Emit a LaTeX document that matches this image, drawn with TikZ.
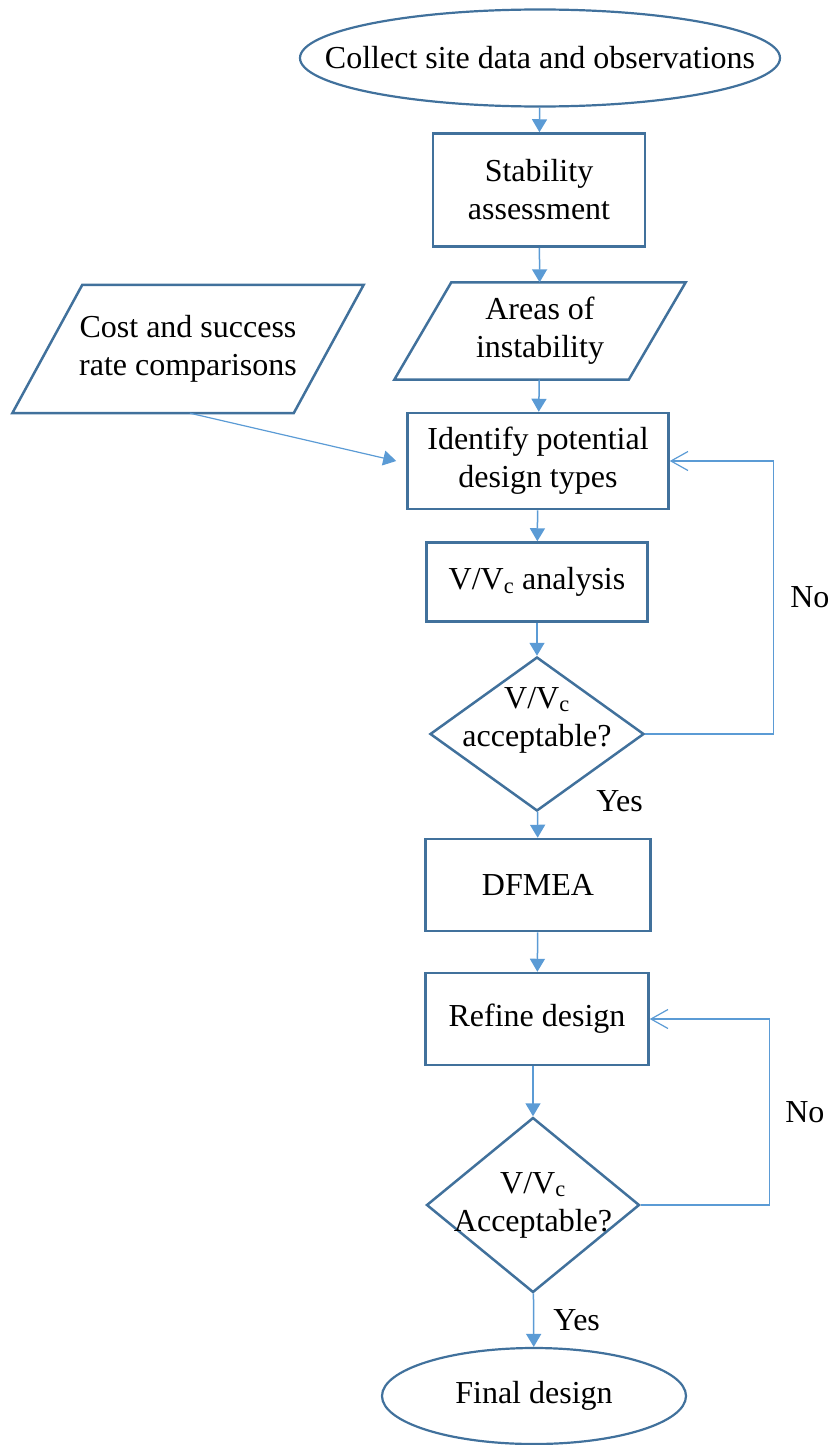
\documentclass[tikz,border=0pt]{standalone}
\usepackage{fontspec}
\setmainfont{Liberation Serif}
\usetikzlibrary{shapes.geometric, arrows.meta, positioning, calc}
\definecolor{edgeblue}{HTML}{41719C}
\definecolor{flowblue}{HTML}{5B9BD5}

% slanted outline round a data node: #1 node, #2 half of the slant
\newcommand{\slantframe}[2]{%
  \draw[dataline] ([xshift=-#2]#1.south west) -- ([xshift=-#2]#1.south east)
    -- ([xshift=#2]#1.north east) -- ([xshift=#2]#1.north west) -- cycle;}

\begin{document}
\begin{tikzpicture}[x=1pt, y=-1pt,
    font=\fontsize{32}{38}\selectfont,
    terminal/.style={ellipse, draw=edgeblue, line width=2.2pt, inner sep=0pt, align=center},
    process/.style={rectangle, draw=edgeblue, line width=2.5pt, inner sep=0pt, align=center},
    data/.style={rectangle, inner sep=0pt, align=center},
    dataline/.style={draw=edgeblue, line width=2.5pt, line join=miter},
    decision/.style={diamond, draw=edgeblue, line width=2.5pt, inner sep=0pt},
    dtext/.style={inner sep=0pt, align=center},
    tag/.style={inner sep=0pt, text=black},
    arrow/.style={-{Triangle[length=13pt, width=15pt]}, line width=1.5pt, flowblue},
    back/.style={-{Straight Barb[length=17pt, width=19pt, line width=1.2pt]}, line width=1.2pt, flowblue}
]
\useasboundingbox (0,0) rectangle (828,1445);

\node[terminal, inner xsep=-60pt, minimum width=480pt, minimum height=97pt] (collect) at (540,58) {Collect site data and observations};
\node[process, minimum width=212pt, minimum height=113pt] (stab) at (539,190) {Stability\\assessment};
\node[data, minimum width=234pt, minimum height=97pt] (areas) at (540,331) {Areas of\\instability};
\slantframe{areas}{28.5pt}
\node[data, minimum width=281pt, minimum height=128pt] (cost) at (188,349) {Cost and success\\rate comparisons};
\slantframe{cost}{35pt}
\node[process, minimum width=261pt, minimum height=96pt] (ident) at (538,461) {Identify potential\\design types};
\node[process, minimum width=221pt, minimum height=79pt] (anal) at (537,582) {V/V\textsubscript{c} analysis};
\node[decision, minimum width=214pt, minimum height=154pt] (check1) at (537,734) {};
\node[dtext] (check1t) at ([yshift=14pt]check1.center) {V/V\textsubscript{c}\\acceptable?};
\node[process, minimum width=225pt, minimum height=92pt] (dfmea) at (538,885) {DFMEA};
\node[process, minimum width=223pt, minimum height=92pt] (refine) at (537,1019) {Refine design};
\node[decision, minimum width=213pt, minimum height=175pt] (check2) at (533,1205) {};
\node[dtext] (check2t) at (check2.center) {V/V\textsubscript{c}\\Acceptable?};
\node[terminal, minimum width=304pt, minimum height=96pt] (final) at (534,1396) {Final design};

% main flow
\draw[arrow] (collect) -- (stab);
\draw[arrow] (stab) -- (areas);
\draw[arrow] (areas) -- (ident);
\draw[arrow] (ident) -- (anal);
\draw[arrow] (anal) -- (check1);
\draw[arrow] (check1) -- node[tag, pos=0, anchor=west, xshift=58pt, yshift=11pt] {Yes} (dfmea);
\draw[arrow] (dfmea) -- (refine);
\draw[arrow] (refine.south -| check2) -- (check2);
\draw[arrow] (check2) -- node[tag, midway, anchor=west, xshift=19pt] {Yes} (final);
\draw[arrow, line width=1.2pt] ([xshift=2pt]cost.south) -- ([xshift=-10pt]ident.west);

% loops back
\draw[back] (check1.east) -| node[tag, pos=0.75, anchor=west, xshift=16pt] {No} ([xshift=104pt]ident.east) -- (ident.east);
\draw[back] (check2.east) -| node[tag, pos=0.75, anchor=west, xshift=15pt] {No} ([xshift=120pt]refine.east) -- (refine.east);

\end{tikzpicture}
\end{document}
